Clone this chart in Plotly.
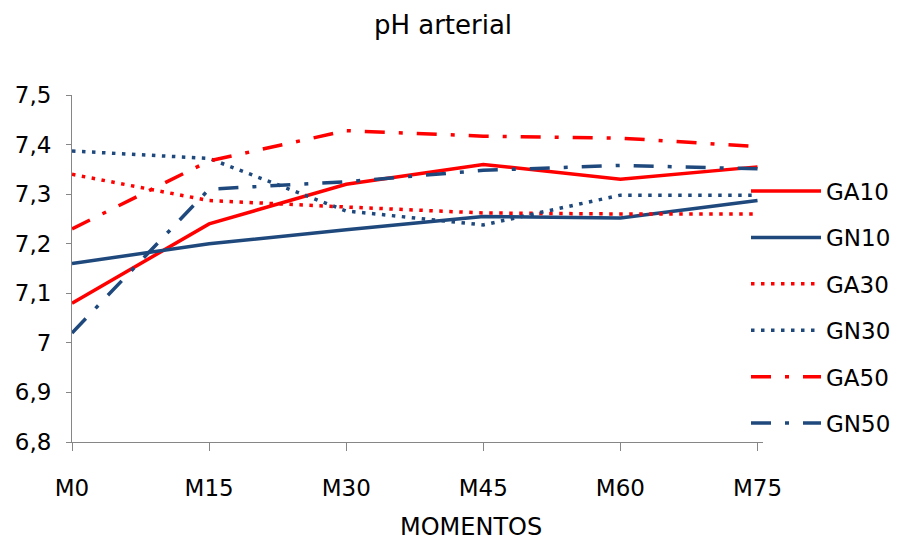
import plotly.graph_objects as go

momentos = ["M0", "M15", "M30", "M45", "M60", "M75"]

ga10 = [7.08, 7.24, 7.32, 7.36, 7.33, 7.355]
gn10 = [7.16, 7.20, 7.228, 7.255, 7.252, 7.287]
ga30 = [7.34, 7.287, 7.274, 7.262, 7.26, 7.26]
gn30 = [7.387, 7.372, 7.266, 7.238, 7.298, 7.298]
ga50 = [7.23, 7.367, 7.428, 7.417, 7.413, 7.396]
gn50 = [7.02, 7.31, 7.325, 7.348, 7.358, 7.351]

y_ticks = [6.8, 6.9, 7.0, 7.1, 7.2, 7.3, 7.4, 7.5]

RED = "#FF0000"
BLUE = "#1F497D"
FONT = "DejaVu Sans, Arial, sans-serif"

DOTTED = "3.5px,6.5px"
DASH_DOT = "20px,14px,4px,14px"

series = [
    ("GA10", ga10, RED, "solid"),
    ("GN10", gn10, BLUE, "solid"),
    ("GA30", ga30, RED, DOTTED),
    ("GN30", gn30, BLUE, DOTTED),
    ("GA50", ga50, RED, DASH_DOT),
    ("GN50", gn50, BLUE, DASH_DOT),
]

fig = go.Figure()
for name, vals, color, dash in series:
    fig.add_trace(go.Scatter(
        x=momentos, y=vals, name=name, legendgroup=name, mode="lines",
        line=dict(color=color, width=3.5, dash=dash),
    ))

fig.update_layout(
    width=900, height=541,
    margin=dict(l=72, r=137, t=95, b=99, autoexpand=False),
    paper_bgcolor="white", plot_bgcolor="white",
    separators=",.",
    font=dict(family=FONT, size=23, color="#000000"),
    title=dict(text="pH arterial", x=443 / 900, xanchor="center", y=1 - 25 / 541,
               yanchor="middle", font=dict(size=26)),
    showlegend=True,
    legend=dict(x=0.9754, xanchor="left", y=0.785, yanchor="top",
                font=dict(size=23), tracegroupgap=13.5, itemwidth=70,
                bgcolor="rgba(0,0,0,0)"),
    xaxis=dict(
        type="category", range=[0, 5.04],
        showline=True, linecolor="#868686", linewidth=1,
        ticks="outside", ticklen=8, tickcolor="#868686",
        showgrid=False, zeroline=False, ticklabelstandoff=17,
    ),
    yaxis=dict(
        range=[6.8, 7.5], tickvals=y_ticks,
        showline=True, linecolor="#868686", linewidth=1,
        ticks="outside", ticklen=5, tickcolor="#868686",
        showgrid=False, zeroline=False, ticklabelstandoff=10,
    ),
    annotations=[dict(
        text="MOMENTOS", xref="paper", yref="paper",
        x=(471 - 72) / 691, y=-(527 - 442) / 347,
        xanchor="center", yanchor="middle", showarrow=False,
        font=dict(size=24),
    )],
)

fig.write_html("out.html")
